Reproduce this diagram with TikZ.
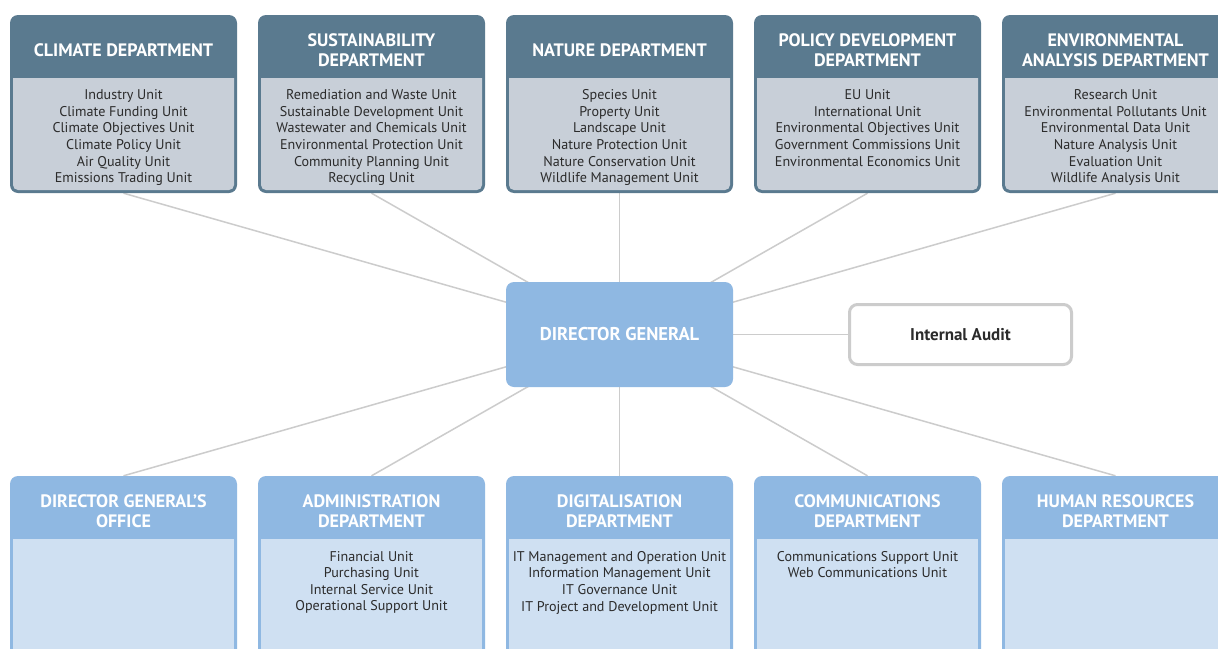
\documentclass[tikz,border=0pt]{standalone}
\usepackage{fontspec}
\setmainfont{PT Sans}
\usetikzlibrary{backgrounds}
\definecolor{slate}{HTML}{5A7A8F}
\definecolor{slatebody}{HTML}{C8CFD8}
\definecolor{dgblue}{HTML}{8FB8E2}
\definecolor{lightblue}{HTML}{CFE0F2}
\definecolor{conn}{HTML}{CCCCCC}
\definecolor{txt}{HTML}{2B2B2B}
\tikzset{
  topbox/.style={fill=slate, rounded corners=8pt, minimum width=227pt, minimum height=178pt, inner sep=0pt},
  botbox/.style={fill=dgblue, rounded corners=8pt, minimum width=227pt, minimum height=200pt, inner sep=0pt},
  headtext/.style={text=white, align=center, font=\fontsize{18}{19.5}\selectfont\bfseries, inner sep=0pt},
  unittext/.style={text=txt, align=center, font=\fontsize{14.1}{16.6}\selectfont, inner sep=0pt, anchor=north},
  conline/.style={draw=conn, line width=1.5pt},
}
\newcommand\topdept[4]{%
  \node[topbox] (#1) at (#2,104) {};
  \fill[slatebody] (#2-110.5,78) -- (#2+110.5,78) [rounded corners=5pt] -- (#2+110.5,190) -- (#2-110.5,190) [sharp corners] -- cycle;
  \node[headtext] (#1h) at (#2,50) {#3};
  \node[unittext] (#1u) at (#2,89.5) {#4};
}
\newcommand\botdept[4]{%
  \node[botbox] (#1) at (#2,576) {};
  \fill[lightblue] (#2-110.5,539) rectangle (#2+110.5,680);
  \node[headtext] (#1h) at (#2,511) {#3};
  \node[unittext] (#1u) at (#2,551) {#4};
}
\begin{document}
\begin{tikzpicture}[x=1pt,y=-1pt]
\clip (0,0) rectangle (1218,648);

\topdept{climate}{123.5}{CLIMATE DEPARTMENT}{Industry Unit\\Climate Funding Unit\\Climate Objectives Unit\\Climate Policy Unit\\Air Quality Unit\\Emissions Trading Unit}
\topdept{sust}{371.5}{SUSTAINABILITY\\DEPARTMENT}{Remediation and Waste Unit\\Sustainable Development Unit\\Wastewater and Chemicals Unit\\Environmental Protection Unit\\Community Planning Unit\\Recycling Unit}
\topdept{nature}{619.5}{NATURE DEPARTMENT}{Species Unit\\Property Unit\\Landscape Unit\\Nature Protection Unit\\Nature Conservation Unit\\Wildlife Management Unit}
\topdept{policy}{867.5}{POLICY DEVELOPMENT\\DEPARTMENT}{EU Unit\\International Unit\\Environmental Objectives Unit\\Government Commissions Unit\\Environmental Economics Unit}
\topdept{envan}{1115.5}{ENVIRONMENTAL\\ANALYSIS DEPARTMENT}{Research Unit\\Environmental Pollutants Unit\\Environmental Data Unit\\Nature Analysis Unit\\Evaluation Unit\\Wildlife Analysis Unit}

\botdept{dgo}{123.5}{DIRECTOR GENERAL’S\\OFFICE}{}
\botdept{admin}{371.5}{ADMINISTRATION\\DEPARTMENT}{Financial Unit\\Purchasing Unit\\Internal Service Unit\\Operational Support Unit}
\botdept{digi}{619.5}{DIGITALISATION\\DEPARTMENT}{IT Management and Operation Unit\\Information Management Unit\\IT Governance Unit\\IT Project and Development Unit}
\botdept{comm}{867.5}{COMMUNICATIONS\\DEPARTMENT}{Communications Support Unit\\Web Communications Unit}
\botdept{hr}{1115.5}{HUMAN RESOURCES\\DEPARTMENT}{}

\node[fill=dgblue, rounded corners=8pt, minimum width=227pt, minimum height=105pt, inner sep=0pt, text=white, font=\fontsize{18.5}{20}\selectfont\bfseries] (dg) at (619.5,334.5) {DIRECTOR GENERAL};
\node[draw=conn, line width=3pt, fill=white, rounded corners=8pt, minimum width=222pt, minimum height=60pt, inner sep=0pt, text=txt, font=\fontsize{17}{19}\selectfont\bfseries] (audit) at (960.5,334.5) {Internal Audit};

\begin{pgfonlayer}{background}
\fill[white] (0,0) rectangle (1218,648);
\foreach \n in {climate,sust,nature,policy,envan}{
  \draw[conline] (\n.south) -- (dg.center);
}
\foreach \n in {dgo,admin,digi,comm,hr}{
  \draw[conline] (\n.north) -- (dg.center);
}
\draw[conline] (dg.center) -- (audit.west);
\end{pgfonlayer}
\end{tikzpicture}
\end{document}
